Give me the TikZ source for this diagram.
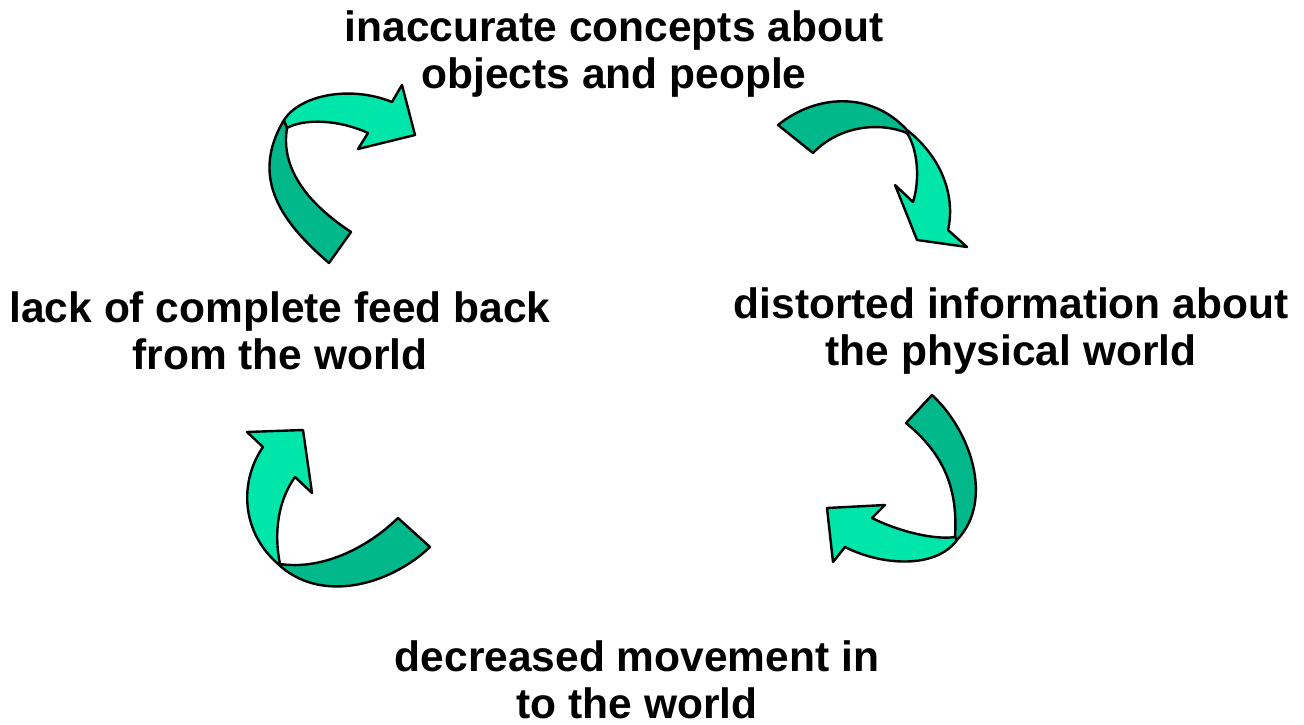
\documentclass[tikz,border=0pt]{standalone}
\usepackage{fontspec}
\setmainfont{Liberation Sans}
\definecolor{bandlight}{RGB}{0,229,170}
\definecolor{banddark}{RGB}{0,184,138}

\begin{document}
\begin{tikzpicture}[x=1pt, y=-1pt,
    cycletext/.style={align=center, font=\fontsize{42.5}{47}\selectfont\bfseries},
    lightband/.style={draw=black, line width=2.4pt, line join=round, fill=bandlight},
    darkband/.style={draw=black, line width=2.4pt, line join=round, fill=banddark}]
        \useasboundingbox (0,0) rectangle (1304,725);

        % Texts of the cycle
        \node[cycletext] (concepts) at (614,54) {inaccurate concepts about\\objects and people};
        \node[cycletext] (distorted) at (1011,331) {distorted information about\\the physical world};
        \node[cycletext] (movement) at (637,680) {decreased movement in\\to the world};
        \node[cycletext] (feedback) at (280,331) {lack of complete feed back\\from the world};

        % Top left arrow
        \draw[darkband] (329,263) .. controls (285,225) and (248,180) .. (284,120)
            -- (287,128) .. controls (280,170) and (310,205) .. (351,232) -- cycle;
        \draw[lightband] (284,120) .. controls (300,95) and (350,85) .. (392,102)
            -- (402,85) -- (415,135) -- (358,149) -- (368,133)
            .. controls (340,120) and (305,118) .. (287,128) -- cycle;

        % Top right arrow
        \draw[darkband] (778,125) .. controls (815,95) and (870,90) .. (907,130)
            -- (907,133) .. controls (880,122) and (840,125) .. (813,153) -- cycle;
        \draw[lightband] (907,130) .. controls (945,160) and (955,200) .. (948,230)
            -- (967,247) -- (917,240) -- (895,185) -- (913,202)
            .. controls (920,180) and (918,150) .. (907,133) -- cycle;

        % Bottom right arrow
        \draw[darkband] (932,395) .. controls (970,430) and (995,500) .. (957,540)
            -- (955,537) .. controls (958,490) and (945,455) .. (906,423) -- cycle;
        \draw[lightband] (957,540) .. controls (935,570) and (880,565) .. (845,547)
            -- (833,562) -- (827,508) -- (885,505) -- (872,518)
            .. controls (900,532) and (935,540) .. (955,537) -- cycle;

        % Bottom left arrow
        \draw[darkband] (430,547) .. controls (390,585) and (320,605) .. (277,563)
            -- (280,564) .. controls (320,570) and (365,550) .. (398,518) -- cycle;
        \draw[lightband] (277,563) .. controls (240,530) and (240,480) .. (263,447)
            -- (247,432) -- (303,430) -- (312,493) -- (295,477)
            .. controls (275,505) and (275,540) .. (280,564) -- cycle;
    \end{tikzpicture}
\end{document}
